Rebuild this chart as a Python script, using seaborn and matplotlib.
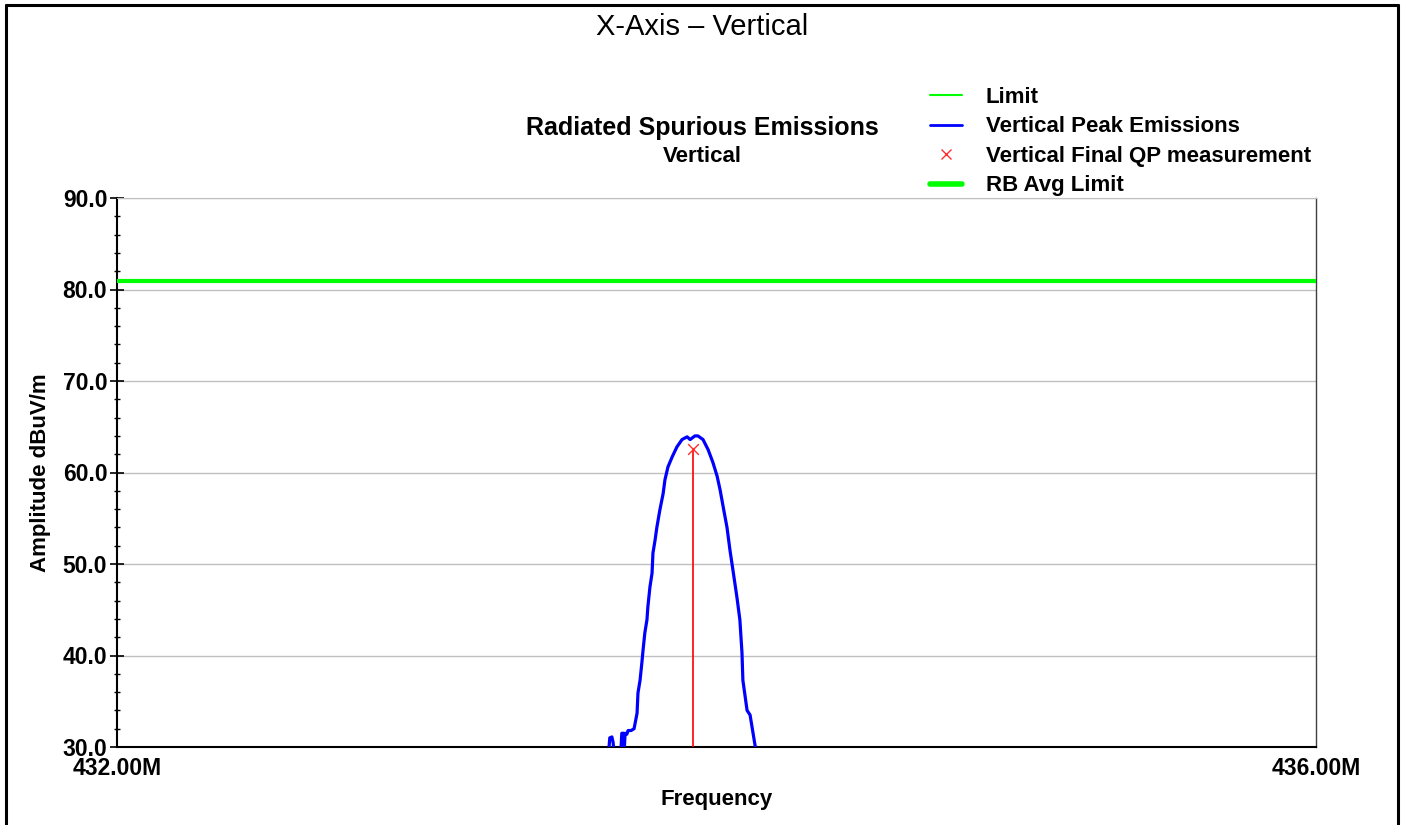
import numpy as np
import pandas as pd
import matplotlib
matplotlib.use("Agg")
import matplotlib.pyplot as plt
from matplotlib.lines import Line2D
from matplotlib.ticker import MultipleLocator, FixedLocator, FormatStrFormatter
import seaborn as sns

# peak emission trace (MHz, dBuV/m)
freq_mhz = [433.600, 433.641, 433.644, 433.651, 433.655, 433.658, 433.668, 433.681,
            433.684, 433.690, 433.692, 433.695, 433.701, 433.705, 433.715, 433.725,
            433.735, 433.738, 433.745, 433.751, 433.755, 433.761, 433.768, 433.771,
            433.778, 433.785, 433.788, 433.795, 433.801, 433.811, 433.822, 433.828,
            433.838, 433.852, 433.868, 433.885, 433.902, 433.912, 433.928, 433.938,
            433.955, 433.972, 433.988, 434.002, 434.012, 434.022, 434.035, 434.045,
            434.055, 434.068, 434.078, 434.085, 434.088, 434.102, 434.112, 434.122,
            434.132, 434.200]
peak_dbuv = [29.0, 29.8, 31.0, 31.1, 30.5, 29.5, 29.5, 29.5,
             31.5, 31.5, 29.5, 31.5, 31.4, 31.8, 31.8, 32.0,
             33.7, 35.9, 37.3, 39.2, 40.6, 42.5, 43.9, 45.3,
             47.5, 49.0, 51.2, 52.6, 54.0, 55.9, 57.7, 59.2,
             60.6, 61.7, 62.8, 63.6, 63.9, 63.6, 64.0, 64.0,
             63.6, 62.5, 61.1, 59.6, 58.1, 56.3, 54.0, 51.5,
             49.3, 46.4, 43.9, 40.3, 37.3, 34.0, 33.5, 31.5,
             29.5, 29.0]

qp_freq = [433.922]
qp_level = [62.6]

limit_level = 80.9
rb_avg_limit = 80.9

x_range = [432.0, 436.0]
x_ticklabels = ["432.00M", "436.00M"]
y_range = [30.0, 90.0]

sns.set_style("white")
plt.rcParams['font.family'] = ['Liberation Sans', 'DejaVu Sans']
plt.rcParams['text.color'] = 'black'
plt.rcParams['axes.labelcolor'] = 'black'
plt.rcParams['xtick.color'] = 'black'
plt.rcParams['ytick.color'] = 'black'

fig = plt.figure(figsize=(14.02, 8.25), dpi=100)
ax = fig.add_axes([117 / 1402, 1 - 747 / 825, 1199 / 1402, 549 / 825])

df = pd.DataFrame({"Frequency": freq_mhz, "Amplitude": peak_dbuv})

ax.axhline(limit_level, color="#00ff00", lw=1.5, zorder=3)
ax.axhline(rb_avg_limit, color="#00ff00", lw=3, zorder=3)
sns.lineplot(data=df, x="Frequency", y="Amplitude", ax=ax, color="#0000ff",
             lw=2.3, zorder=4, estimator=None, sort=False)
ax.vlines(qp_freq, y_range[0], qp_level, color="#ff0000", lw=1.2, zorder=5)
sns.scatterplot(x=qp_freq, y=qp_level, ax=ax, marker="x", color="#ff3030",
                s=60, linewidth=1, zorder=6)

ax.set_xlim(*x_range)
ax.set_ylim(*y_range)
ax.xaxis.set_major_locator(FixedLocator(x_range))
ax.set_xticklabels(x_ticklabels)
ax.yaxis.set_major_locator(MultipleLocator(10))
ax.yaxis.set_minor_locator(MultipleLocator(2))
ax.yaxis.set_major_formatter(FormatStrFormatter("%.1f"))
ax.tick_params(axis="x", length=0, pad=7, labelsize=16.5)
ax.tick_params(axis="y", which="major", direction="inout", length=10, width=1.2,
               labelsize=16.5, pad=2, left=True)
ax.tick_params(axis="y", which="minor", direction="inout", length=5, width=1.0, left=True)
for lab in ax.get_xticklabels() + ax.get_yticklabels():
    lab.set_fontweight("bold")

ax.grid(axis="y", color="#c0c0c0", lw=1.0)
ax.grid(axis="x", visible=False)
ax.spines["left"].set_color("black")
ax.spines["left"].set_linewidth(1.5)
ax.spines["bottom"].set_color("black")
ax.spines["bottom"].set_linewidth(1.5)
ax.spines["top"].set_color("#c0c0c0")
ax.spines["right"].set_color("#404040")
ax.spines["right"].set_linewidth(1.0)

ax.set_xlabel("Frequency", fontsize=16, fontweight="bold", labelpad=7)
ax.set_ylabel("Amplitude dBuV/m", fontsize=16, fontweight="bold", labelpad=8)

fig.text(702 / 1402, 1 - 27 / 825, "X-Axis \u2013 Vertical", fontsize=21,
         ha="center", va="center")
fig.text(702 / 1402, 1 - 128 / 825, "Radiated Spurious Emissions", fontsize=18,
         fontweight="bold", ha="center", va="center")
fig.text(702 / 1402, 1 - 156 / 825, "Vertical", fontsize=16,
         fontweight="bold", ha="center", va="center")

handles = [Line2D([], [], color="#00ff00", lw=1.5),
           Line2D([], [], color="#0000ff", lw=2),
           Line2D([], [], color="#ff3030", marker="x", ls="none", ms=7, mew=1),
           Line2D([], [], color="#00ff00", lw=4)]
labels = ["Limit", "Vertical Peak Emissions", "Vertical Final QP measurement", "RB Avg Limit"]
fig.legend(handles, labels, loc="upper left", frameon=False,
           bbox_to_anchor=(930 / 1402, 1 - 87 / 825), bbox_transform=fig.transFigure,
           borderpad=0, borderaxespad=0, handlelength=1.45, handletextpad=1.05,
           labelspacing=0.38, prop={"size": 16, "weight": "bold"})

# outer page frame
for xs, ys in [([6, 6], [825, 5]), ([6, 1398], [5, 5]), ([1398, 1398], [5, 825])]:
    fig.add_artist(Line2D([x / 1402 for x in xs], [1 - y / 825 for y in ys],
                          color="black", lw=2.2, transform=fig.transFigure))

fig.savefig("out.png", dpi=100)
